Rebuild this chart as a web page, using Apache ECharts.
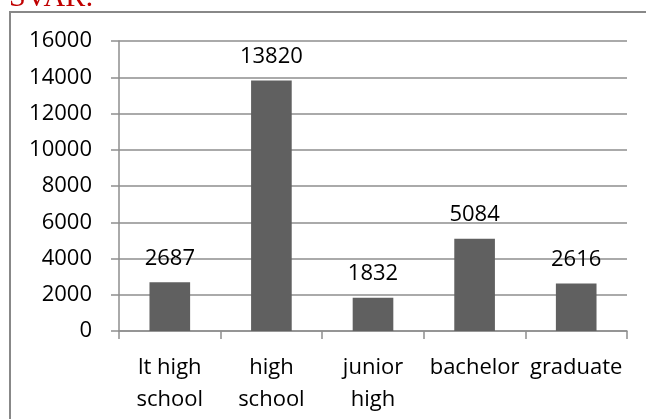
<!DOCTYPE html>
<html>
<head>
<meta charset="utf-8">
<script src="https://cdn.jsdelivr.net/npm/echarts@6/dist/echarts.min.js"></script>
<style>
  html, body { margin: 0; padding: 0; background: #ffffff; }
  #chart { width: 646px; height: 419px; }
</style>
</head>
<body>
<div id="chart"></div>
<script>
// Education level counts
const categories = ['lt high\nschool', 'high\nschool', 'junior\nhigh', 'bachelor', 'graduate'];
const counts = [2687, 13820, 1832, 5084, 2616];
const yTicks = { min: 0, max: 16000, interval: 2000 };

const chart = echarts.init(document.getElementById('chart'));
const font = '"Open Sans", Lato, sans-serif';
const lineGray = '#8e8e8e';

chart.setOption({
  animation: false,
  backgroundColor: '#ffffff',
  graphic: [
    // frame: top and left edges only
    {
      type: 'polyline',
      shape: { points: [[10, 419], [10, 12], [646, 12]] },
      style: { fill: 'none', stroke: '#888888', lineWidth: 2 },
      silent: true
    },
    {
      type: 'text',
      silent: true,
      style: {
        x: 9,
        y: -2,
        text: 'SVAR:',
        font: '30px "Liberation Serif", "DejaVu Serif", serif',
        fill: '#c00000',
        verticalAlign: 'middle',
        align: 'left'
      }
    }
  ],
  grid: { left: 119, right: 19, top: 41, bottom: 88 },
  xAxis: {
    type: 'category',
    data: categories,
    axisLine: { lineStyle: { color: lineGray, width: 1.5 } },
    axisTick: { show: true, length: 8, alignWithLabel: false, lineStyle: { color: lineGray, width: 1.5 } },
    axisLabel: {
      color: '#000000',
      fontFamily: font,
      fontSize: 22,
      lineHeight: 32,
      margin: 21,
      interval: 0
    }
  },
  yAxis: {
    type: 'value',
    min: yTicks.min,
    max: yTicks.max,
    interval: yTicks.interval,
    axisLine: { show: true, lineStyle: { color: lineGray, width: 1.5 } },
    axisTick: { show: true, length: 8, lineStyle: { color: lineGray, width: 1.5 } },
    splitLine: { lineStyle: { color: lineGray, width: 1.5 } },
    axisLabel: {
      color: '#000000',
      fontFamily: font,
      fontSize: 22,
      margin: 27,
      formatter: (v) => String(v)
    }
  },
  series: [{
    type: 'bar',
    data: counts,
    barWidth: '40%',
    itemStyle: { color: '#606060' },
    label: {
      show: true,
      position: 'top',
      distance: 13,
      color: '#000000',
      fontFamily: font,
      fontSize: 22
    }
  }]
});
</script>
</body>
</html>
